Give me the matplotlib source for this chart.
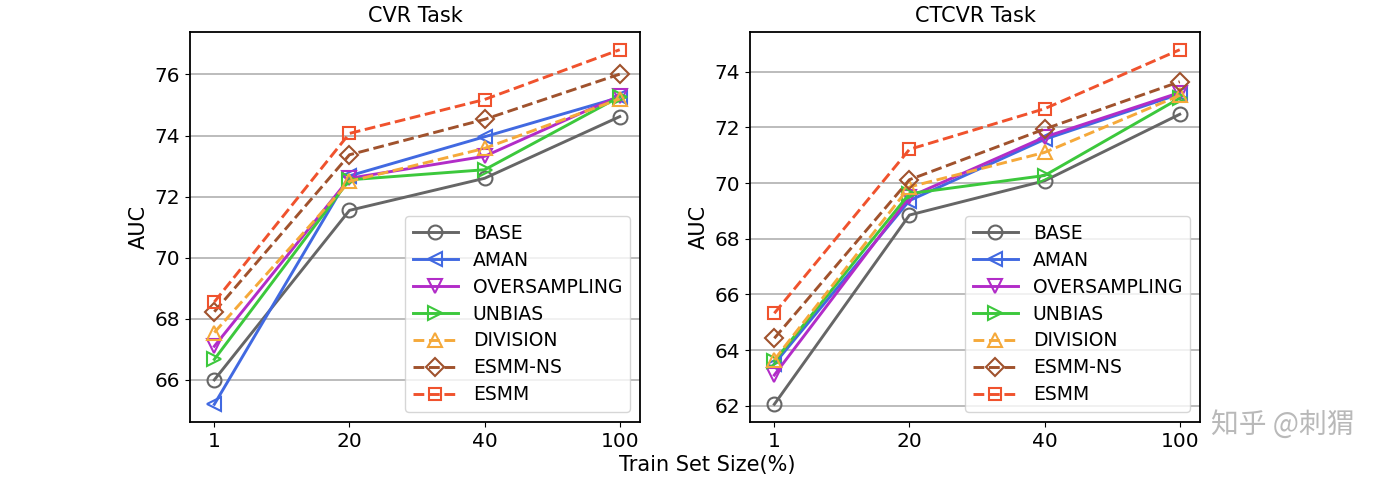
import matplotlib
matplotlib.use("Agg")
import matplotlib.pyplot as plt

x_labels = ["1", "20", "40", "100"]
series_names = ["BASE", "AMAN", "OVERSAMPLING", "UNBIAS", "DIVISION", "ESMM-NS", "ESMM"]

cvr_base = [66.0, 71.55, 72.6, 74.62]
cvr_aman = [65.2, 72.68, 73.96, 75.25]
cvr_over = [67.1, 72.6, 73.32, 75.3]
cvr_unbias = [66.67, 72.55, 72.88, 75.27]
cvr_division = [67.55, 72.5, 73.58, 75.2]
cvr_esmmns = [68.23, 73.37, 74.53, 76.01]
cvr_esmm = [68.55, 74.07, 75.18, 76.81]

ctcvr_base = [62.05, 68.85, 70.08, 72.47]
ctcvr_aman = [63.5, 69.37, 71.57, 73.2]
ctcvr_over = [63.1, 69.5, 71.65, 73.25]
ctcvr_unbias = [63.6, 69.62, 70.27, 73.05]
ctcvr_division = [63.65, 69.86, 71.1, 73.15]
ctcvr_esmmns = [64.42, 70.12, 71.94, 73.64]
ctcvr_esmm = [65.32, 71.21, 72.67, 74.79]

colors = ["#666666", "#4169E1", "#B22CC8", "#3CC83C", "#F5A93A", "#A0522D", "#F0522D"]
markers = ["o", "<", "v", ">", "^", "D", "s"]
styles = ["-", "-", "-", "-", "--", "--", "--"]
msizes = [10, 10, 10, 10, 10, 9, 9]

cvr = [cvr_base, cvr_aman, cvr_over, cvr_unbias, cvr_division, cvr_esmmns, cvr_esmm]
ctcvr = [ctcvr_base, ctcvr_aman, ctcvr_over, ctcvr_unbias, ctcvr_division, ctcvr_esmmns, ctcvr_esmm]

fig = plt.figure(figsize=(13.9, 4.82), dpi=100)
ax1 = fig.add_axes([190/1390, 60/482, 450/1390, 390/482])
ax2 = fig.add_axes([750/1390, 60/482, 450/1390, 390/482])

xs = list(range(len(x_labels)))
for ax, data, title in [(ax1, cvr, "CVR Task"), (ax2, ctcvr, "CTCVR Task")]:
    for name, vals, c, m, ls, ms in zip(series_names, data, colors, markers, styles, msizes):
        ax.plot(xs, vals, color=c, marker=m, linestyle=ls, linewidth=2.1,
                markersize=ms, fillstyle="none", markeredgewidth=1.5, label=name)
    ax.set_xticks(xs)
    ax.set_xticklabels(x_labels)
    ax.set_xlim(-0.18, 3.15)
    ax.yaxis.grid(True, color="#b0b0b0", linewidth=1.2)
    ax.set_axisbelow(True)
    ax.set_title(title, fontsize=15, pad=7)
    ax.set_ylabel("AUC", fontsize=15)
    ax.tick_params(labelsize=14.5)
    for s in ax.spines.values():
        s.set_linewidth(1.3)
    ax.legend(loc="lower right", fontsize=13.5, handlelength=2.4, labelspacing=0.42,
              borderaxespad=0.55)

fig.text(707/1390, 1 - 465/482, "Train Set Size(%)", ha="center", va="center", fontsize=15)
fig.text(1283/1390, 1 - 425/482, "知乎 @刺猬", ha="center", va="center", fontsize=20,
         color="#a8a8a8", alpha=0.8, family=["Noto Sans CJK SC", "DejaVu Sans"])

fig.savefig("out.png", dpi=100)
